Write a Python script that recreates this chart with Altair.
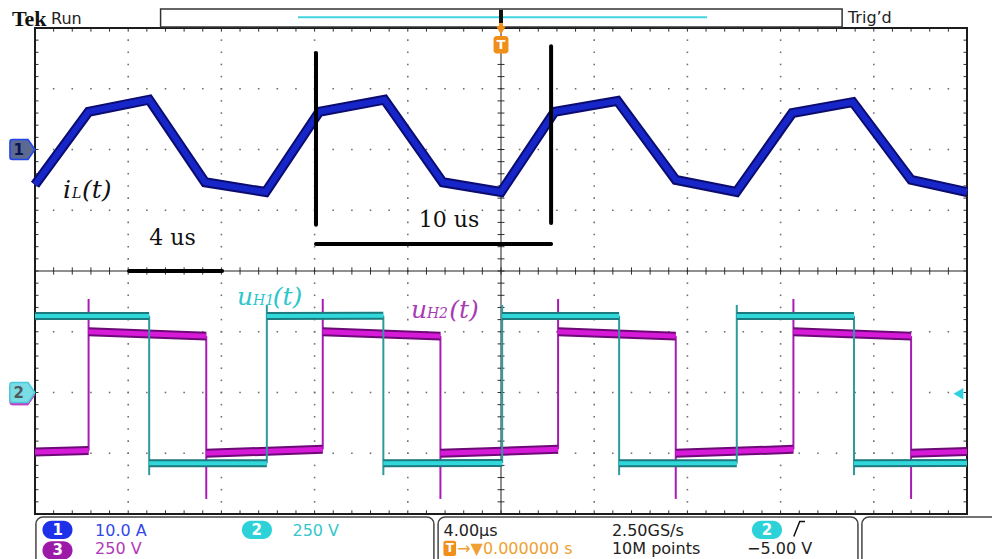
import altair as alt
import numpy as np
import pandas as pd

# ---------------- scope settings ----------------
T_MIN, T_MAX = -20.0, 20.0        # 4.00 us/div, 10 divisions, trigger at centre
D_MIN, D_MAX = -4.0, 4.0          # 8 vertical divisions
CH1_A_PER_DIV = 10.0
CH2_V_PER_DIV = 250.0
CH3_V_PER_DIV = 250.0
CH1_POS = 2.0
CH2_POS = -2.0
CH3_POS = -2.0

# ---------------- inductor current iL(t) [A] ----------------
il_t = [-20.0, -17.7, -15.1, -12.7, -10.1, -7.8, -5.0, -2.5, 0.0,
        2.3, 5.0, 7.5, 10.1, 12.5, 15.1, 17.6, 20.0]
il_a = [-5.8, 6.2, 8.2, -5.4, -7.0, 6.2, 8.2, -5.4, -7.0,
        6.2, 8.0, -5.0, -7.0, 6.0, 7.8, -5.0, -7.0]

# ---------------- uH1(t) (cyan) [V] ----------------
uh1_bounds = [-20.0, -15.1, -10.05, -5.05, 0.05, 5.07, 10.12, 15.15, 20.0]
uh1_start = [315, -291, 315, -291, 315, -291, 315, -291]
uh1_end = [315, -291, 316, -290, 315, -291, 315, -290]
uh1_spike = [-340, 360, -340, 360, -340, 360, -340]

# ---------------- uH2(t) (magenta) [V] ----------------
uh2_bounds = [-20.0, -17.7, -12.65, -7.65, -2.6, 2.45, 7.5, 12.55, 17.6, 20.0]
uh2_start = [-245, 250, -250, 250, -250, 250, -250, 250, -250]
uh2_end = [-239, 232, -234, 232, -234, 232, -234, 232, -243]
uh2_spike = [385, -438, 385, -438, 385, -438, 385, -438]

# ---------------- scales / encodings ----------------
XS = alt.Scale(domain=[T_MIN, T_MAX], nice=False, zero=False)
YS = alt.Scale(domain=[D_MIN, D_MAX], nice=False, zero=False)
X = alt.X("t:Q", scale=XS, axis=None)
Y = alt.Y("d:Q", scale=YS, axis=None)


def rules(df, **kw):
    return alt.Chart(pd.DataFrame(df)).mark_rule(**kw).encode(
        x=X, x2=alt.X2("t2:Q"), y=Y, y2=alt.Y2("d2:Q"))


def rects(df, **kw):
    return alt.Chart(pd.DataFrame(df)).mark_rect(**kw).encode(
        x=X, x2=alt.X2("t2:Q"), y=Y, y2=alt.Y2("d2:Q"))


def texts(df, **kw):
    return alt.Chart(pd.DataFrame(df)).mark_text(**kw).encode(
        x=X, y=Y, text="s:N")


def points(df, **kw):
    return alt.Chart(pd.DataFrame(df)).mark_point(**kw).encode(x=X, y=Y)


def seg_frame(bounds, v0, v1, scale, pos):
    return pd.DataFrame({
        "t": bounds[:-1], "t2": bounds[1:],
        "d": [v / scale + pos for v in v0],
        "d2": [v / scale + pos for v in v1]})


def edge_frame(bounds, v1, spike, scale, pos):
    return pd.DataFrame({
        "t": bounds[1:-1], "t2": bounds[1:-1],
        "d": [v / scale + pos for v in v1[:-1]],
        "d2": [v / scale + pos for v in spike]})


# ---------------- graticule ----------------
x_minor = np.round(np.arange(T_MIN, T_MAX + 1e-6, 0.8), 3)
y_minor = np.round(np.arange(D_MIN, D_MAX + 1e-6, 0.2), 3)
x_major = [-16, -12, -8, -4, 4, 8, 12, 16]
y_major = [-3, -2, -1, 1, 2, 3]
dots = [{"t": x, "d": y} for y in y_major for x in x_minor] + \
       [{"t": x, "d": y} for x in x_major for y in y_minor]

ticks = []
for x in x_minor:
    ticks += [{"t": x, "t2": x, "d": 4.0, "d2": 3.94},
              {"t": x, "t2": x, "d": -4.0, "d2": -3.94},
              {"t": x, "t2": x, "d": -0.06, "d2": 0.06}]
for y in y_minor:
    ticks += [{"t": -20.0, "t2": -19.85, "d": y, "d2": y},
              {"t": 20.0, "t2": 19.85, "d": y, "d2": y},
              {"t": -0.15, "t2": 0.15, "d": y, "d2": y}]

grid_dots = alt.Chart(pd.DataFrame(dots)).mark_square(
    size=2.5, color="#6f6f6f", opacity=1).encode(x=X, y=Y)
center_lines = rules([{"t": -20, "t2": 20, "d": 0, "d2": 0},
                      {"t": 0, "t2": 0, "d": -4, "d2": 4}],
                     color="#202020", strokeWidth=1)
tick_marks = rules(ticks, color="#303030", strokeWidth=1)
border = rects([{"t": -20, "t2": 20, "d": -4, "d2": 4}],
               fill="transparent", stroke="#1c1c1c", strokeWidth=2)

# ---------------- traces ----------------
il_df = pd.DataFrame({"t": il_t, "d": [a / CH1_A_PER_DIV + CH1_POS for a in il_a]})
il_dark = alt.Chart(il_df).mark_line(color="#0b0b70", strokeWidth=10,
                                     strokeJoin="miter").encode(x=X, y=Y)
il_core = alt.Chart(il_df).mark_line(color="#1626c8", strokeWidth=6,
                                     strokeJoin="miter").encode(x=X, y=Y)

c_seg = seg_frame(uh1_bounds, uh1_start, uh1_end, CH2_V_PER_DIV, CH2_POS)
c_edge = edge_frame(uh1_bounds, uh1_end, uh1_spike, CH2_V_PER_DIV, CH2_POS)
m_seg = seg_frame(uh2_bounds, uh2_start, uh2_end, CH3_V_PER_DIV, CH3_POS)
m_edge = edge_frame(uh2_bounds, uh2_end, uh2_spike, CH3_V_PER_DIV, CH3_POS)

m_edges = rules(m_edge, color="#a81cb4", strokeWidth=2)
m_dark = rules(m_seg, color="#6e0a78", strokeWidth=9)
m_core = rules(m_seg, color="#d61ad8", strokeWidth=5)
c_edges = rules(c_edge, color="#2e9a9e", strokeWidth=2)
c_dark = rules(c_seg, color="#1c7a7e", strokeWidth=8)
c_core = rules(c_seg, color="#30d8dc", strokeWidth=4)

# ---------------- annotations ----------------
bars = rules([{"t": -7.94, "t2": -7.94, "d": 3.59, "d2": 0.76},
              {"t": 2.15, "t2": 2.15, "d": 3.70, "d2": 0.79},
              {"t": -7.94, "t2": 2.15, "d": 0.444, "d2": 0.444},
              {"t": -15.96, "t2": -11.97, "d": 0.0, "d2": 0.0}],
             color="#000000", strokeWidth=4, strokeCap="round")

serif = "DejaVu Serif"
big_it = dict(font=serif, fontStyle="italic", fontSize=25, align="left",
              baseline="alphabetic")
sub_it = dict(font=serif, fontStyle="italic", fontSize=14, align="left",
              baseline="alphabetic")
lab_big_k = texts([{"t": -18.80, "d": 1.20, "s": "i"},
                   {"t": -17.98, "d": 1.20, "s": "(t)"}], color="#111111", **big_it)
lab_sub_k = texts([{"t": -18.41, "d": 1.20, "s": "L"}], color="#111111", **sub_it)
lab_big_c = texts([{"t": -11.33, "d": -0.56, "s": "u"},
                   {"t": -9.80, "d": -0.56, "s": "(t)"}], color="#2cc6cc", **big_it)
lab_sub_c = texts([{"t": -10.64, "d": -0.56, "s": "H1"}], color="#2cc6cc", **sub_it)
lab_big_m = texts([{"t": -3.86, "d": -0.77, "s": "u"},
                   {"t": -2.22, "d": -0.77, "s": "(t)"}], color="#a83cb4", **big_it)
lab_sub_m = texts([{"t": -3.18, "d": -0.77, "s": "H2"}], color="#a83cb4", **sub_it)
lab_time = texts([{"t": -14.1, "d": 0.428, "s": "4 us"},
                  {"t": -2.23, "d": 0.724, "s": "10 us"}],
                 font=serif, fontSize=22, align="center", baseline="alphabetic",
                 color="#111111")

# ---------------- scope UI ----------------
sans = "DejaVu Sans"
tek = texts([{"t": -20.99, "d": 4.033, "s": "Tek"}], font="Liberation Serif",
            fontWeight="bold", fontSize=22, align="left", baseline="alphabetic",
            color="#111111")
top_txt = texts([{"t": -19.31, "d": 4.066, "s": "Run"},
                 {"t": 14.89, "d": 4.09, "s": "Trig\u2019d"}],
                font=sans, fontSize=16, align="left", baseline="alphabetic",
                color="#222222")
top_box = rects([{"t": -14.61, "t2": 14.64, "d": 4.313, "d2": 4.016}],
                fill="white", stroke="#333333", strokeWidth=1.5)
top_cyan = rules([{"t": -8.71, "t2": 8.84, "d": 4.176, "d2": 4.176}],
                 color="#40d4e0", strokeWidth=2)
trig_bar = rules([{"t": 0.0, "t2": 0.0, "d": 4.30, "d2": 4.08}],
                 color="#111111", strokeWidth=4)
trig_bar_o = rules([{"t": 0.0, "t2": 0.0, "d": 4.08, "d2": 3.99}],
                   color="#f0901a", strokeWidth=4)
trig_arrow = points([{"t": 0.0, "d": 3.96}], shape="triangle-down", size=90,
                    filled=True, color="#f0901a", opacity=1)
trig_t_box = rects([{"t": -0.32, "t2": 0.32, "d": 3.87, "d2": 3.58}],
                   fill="#f0901a", cornerRadius=3)
trig_t = texts([{"t": 0.0, "d": 3.725, "s": "T"}], font=sans, fontWeight="bold",
               fontSize=13, align="center", baseline="middle", color="white")

marker_path = "M-0.8,-0.8L0.45,-0.8L1,0L0.45,0.8L-0.8,0.8Q-1,0.8,-1,0.6L-1,-0.6Q-1,-0.8,-0.8,-0.8Z"
mk1 = points([{"t": -20.54, "d": 2.0}], shape=marker_path, size=625, filled=True,
             fill="#5c6a92", stroke="#2244ee", strokeWidth=1.5, opacity=1)
mk1_t = texts([{"t": -20.70, "d": 2.0, "s": "1"}], font=sans, fontWeight="bold",
              fontSize=15, align="center", baseline="middle", color="#0c1450")
mk3 = points([{"t": -20.54, "d": -2.04}], shape=marker_path, size=625, filled=True,
             fill="#c040c8", stroke="#c040c8", strokeWidth=1, opacity=1)
mk2 = points([{"t": -20.54, "d": -2.0}], shape=marker_path, size=625, filled=True,
             fill="#7adde6", stroke="#48cad8", strokeWidth=1.5, opacity=1)
mk2_t = texts([{"t": -20.70, "d": -2.0, "s": "2"}], font=sans, fontWeight="bold",
              fontSize=15, align="center", baseline="middle", color="#505a5c")
trig_lvl = points([{"t": 19.63, "d": -2.02}], shape="triangle-left", size=130,
                  filled=True, color="#30d0e0", opacity=1)

boxes = rects([{"t": -19.96, "t2": -2.88, "d": -4.05, "d2": -4.95},
               {"t": -2.70, "t2": 15.32, "d": -4.05, "d2": -4.95},
               {"t": 15.49, "t2": 21.6, "d": -4.05, "d2": -4.95}],
              fill="white", stroke="#444444", strokeWidth=1.5, cornerRadius=7)
pill_rows = [
    {"t": -19.68, "t2": -18.39, "d": -4.11, "d2": -4.41, "c": "#1e30e8"},
    {"t": -19.68, "t2": -18.39, "d": -4.45, "d2": -4.75, "c": "#9c1aa8"},
    {"t": -11.12, "t2": -9.83, "d": -4.11, "d2": -4.41, "c": "#2cd2d8"},
    {"t": 10.77, "t2": 12.06, "d": -4.11, "d2": -4.41, "c": "#2cd2d8"},
]
pills = alt.Chart(pd.DataFrame(pill_rows)).mark_rect(cornerRadius=9).encode(
    x=X, x2=alt.X2("t2:Q"), y=Y, y2=alt.Y2("d2:Q"),
    color=alt.Color("c:N", scale=None))
pill_txt = texts([{"t": -19.03, "d": -4.26, "s": "1"},
                  {"t": -19.03, "d": -4.59, "s": "3"},
                  {"t": -10.48, "d": -4.26, "s": "2"},
                  {"t": 11.42, "d": -4.26, "s": "2"}],
                 font=sans, fontWeight="bold", fontSize=15, align="center",
                 baseline="middle", color="white")

ROW2 = -4.665
st = dict(font=sans, fontSize=16, align="left", baseline="alphabetic")
s_blue = texts([{"t": -17.42, "d": -4.362, "s": "10.0 A"}], color="#3448e8", **st)
s_cyan = texts([{"t": -8.95, "d": -4.362, "s": "250 V"}], color="#36c6cc", **st)
s_mag = texts([{"t": -17.42, "d": ROW2, "s": "250 V"}], color="#b03ab8", **st)
s_black = texts([{"t": -2.47, "d": -4.362, "s": "4.00\u00b5s"},
                 {"t": 4.76, "d": -4.362, "s": "2.50GS/s"},
                 {"t": 4.76, "d": ROW2, "s": "10M points"},
                 {"t": 10.56, "d": ROW2, "s": "\u22125.00 V"}],
                color="#222222", **st)
s_orange = texts([{"t": -1.88, "d": ROW2, "s": "\u2192\u25bc0.000000 s"}],
                 color="#f0a030", **st)
t_box = rects([{"t": -2.47, "t2": -1.93, "d": -4.44, "d2": -4.69}],
              fill="#f0901a", cornerRadius=2)
t_box_t = texts([{"t": -2.20, "d": -4.565, "s": "T"}], font=sans, fontWeight="bold",
                fontSize=12, align="center", baseline="middle", color="white")
edge_sym = points([{"t": 12.79, "d": -4.247}], shape="M-0.7,1L0.1,-1L0.8,-1",
                  size=225, filled=False, stroke="#111111", strokeWidth=1.5,
                  opacity=1)

chart = alt.layer(
    grid_dots, tick_marks, center_lines, border,
    m_edges, m_dark, m_core, c_edges, c_dark, c_core,
    il_dark, il_core,
    bars, lab_big_k, lab_sub_k, lab_big_c, lab_sub_c, lab_big_m, lab_sub_m, lab_time,
    top_box, top_cyan, trig_bar, trig_bar_o, trig_arrow, trig_t_box, trig_t,
    tek, top_txt,
    mk3, mk2, mk2_t, mk1, mk1_t, trig_lvl,
    boxes, pills, pill_txt, s_blue, s_cyan, s_mag, s_black, s_orange,
    t_box, t_box_t, edge_sym,
).properties(
    width=932, height=486,
    padding={"left": 35, "top": 28, "right": 25, "bottom": 45},
    autosize=alt.AutoSizeParams(type="none"),
    background="white",
).configure_view(stroke=None)

chart.save("out.html", embed_options={"renderer": "svg", "actions": False})
